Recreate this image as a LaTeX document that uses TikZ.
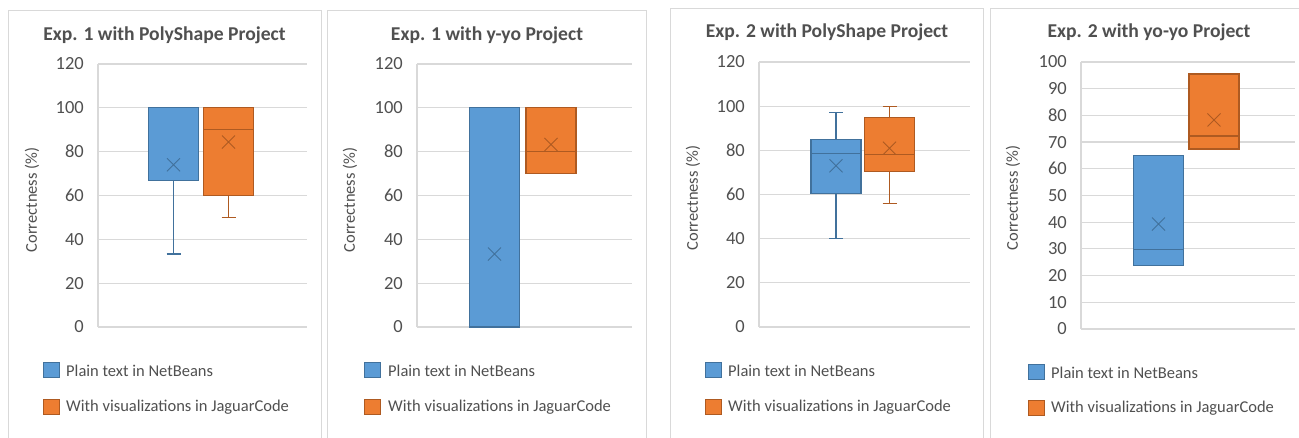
\documentclass[tikz,border=0pt]{standalone}
\usepackage{fontspec}
\setmainfont{Carlito}
\usepackage{xcolor}
\usetikzlibrary{positioning}

\definecolor{nbblue}{HTML}{5B9BD5}
\definecolor{nbblueline}{HTML}{41719C}
\definecolor{jcorange}{HTML}{ED7D31}
\definecolor{jcorangeline}{HTML}{AE5A21}
\definecolor{txtgray}{HTML}{505050}
\definecolor{gridgray}{HTML}{D9D9D9}

\tikzset{
  frame/.style={draw=gridgray, line width=1pt},
  gridline/.style={draw=gridgray, line width=1.2pt},
  ticklbl/.style={anchor=east, text=txtgray, font=\fontsize{18.5}{18.5}\selectfont, inner sep=0pt},
  ttl/.style={text=txtgray, font=\fontsize{19.6}{19.6}\selectfont\bfseries, inner sep=0pt},
  ylbl/.style={text=txtgray, rotate=90, font=\fontsize{16.5}{16.5}\selectfont, inner sep=0pt},
  legtxt/.style={anchor=west, text=txtgray, font=\fontsize{16.5}{16.5}\selectfont, inner sep=0pt},
  legkey/.style={minimum width=16pt, minimum height=15pt, inner sep=0pt, line width=1pt},
  bluekey/.style={legkey, fill=nbblue, draw=nbblueline},
  orangekey/.style={legkey, fill=jcorange, draw=jcorangeline}
}

% #1 axis x, #2 right end, #3 max value, #4 step
\newcommand{\panelaxes}[4]{%
  \foreach \v in {0,#4,...,#3} {
    \draw[gridline] (#1,\v) -- (#2,\v);
    \node[ticklbl] at (#1-14,\v) {\v};
  }
  \draw[gridline] (#1,0) -- (#1,#3);
}

% #1 centre x, #2 low, #3 q1, #4 median, #5 q3, #6 high, #7 mean, #8 fill, #9 line
\newcommand{\bxplot}[9]{%
  \draw[#9, line width=1.2pt] (#1,#2) -- (#1,#3) (#1,#5) -- (#1,#6);
  \draw[#9, line width=1.2pt] (#1,#2) ++(-7pt,0) -- ++(14pt,0)
                              (#1,#6) ++(-7pt,0) -- ++(14pt,0);
  \filldraw[fill=#8, draw=#9, line width=1.2pt] (#1-25,#3) rectangle (#1+25,#5);
  \draw[#9, line width=1.2pt] (#1-25,#4) -- (#1+25,#4);
  \draw[#9, line width=0.9pt] (#1,#7) ++(-6.5pt,-6.5pt) -- ++(13pt,13pt)
                              (#1,#7) ++(-6.5pt,6.5pt) -- ++(13pt,-13pt);
}

\begin{document}
\begin{tikzpicture}[x=1pt, y=-1pt]
  \useasboundingbox[fill=white] (0,0) rectangle (1299,438);
  \clip (0,0) rectangle (1299,438);

  % chart frames
  \draw[frame] (8,11) rectangle (321,450);
  \draw[frame] (327,11) rectangle (646,450);
  \draw[frame] (670,9) rectangle (983,450);
  \draw[frame] (990,9) rectangle (1320,450);

  % titles
  \node[ttl] (t1) at (164.5,35) {Exp. 1 with PolyShape Project};
  \node[ttl] (t2) at (487,35) {Exp. 1 with y-yo Project};
  \node[ttl] (t3) at (827,32) {Exp. 2 with PolyShape Project};
  \node[ttl] (t4) at (1149,32) {Exp. 2 with yo-yo Project};

  % axis titles
  \node[ylbl] (y1) at (32,200) {Correctness (\%)};
  \node[ylbl] (y2) at (350,200) {Correctness (\%)};
  \node[ylbl] (y3) at (693,198) {Correctness (\%)};
  \node[ylbl] (y4) at (1013,198) {Correctness (\%)};

  % Exp. 1, PolyShape
  \begin{scope}[shift={(0,327)}, y={(0pt,2.1917pt)}]
    \panelaxes{98}{307}{120}{20}
    \bxplot{173.5}{33.3}{66.7}{100}{100}{100}{74}{nbblue}{nbblueline}
    \bxplot{228.5}{50}{60}{90}{100}{100}{84.4}{jcorange}{jcorangeline}
  \end{scope}

  % Exp. 1, y-yo
  \begin{scope}[shift={(0,327)}, y={(0pt,2.1917pt)}]
    \panelaxes{417}{632}{120}{20}
    \bxplot{494.5}{0}{0}{0}{100}{100}{33.3}{nbblue}{nbblueline}
    \bxplot{551}{70}{70}{80}{100}{100}{83.3}{jcorange}{jcorangeline}
  \end{scope}

  % Exp. 2, PolyShape
  \begin{scope}[shift={(0,327)}, y={(0pt,2.208pt)}]
    \panelaxes{759}{970}{120}{20}
    \bxplot{836}{40}{60.4}{78.6}{85}{97}{73}{nbblue}{nbblueline}
    \bxplot{889.5}{56}{70.3}{78.3}{95}{100}{81}{jcorange}{jcorangeline}
  \end{scope}

  % Exp. 2, yo-yo
  \begin{scope}[shift={(0,329)}, y={(0pt,2.67pt)}]
    \panelaxes{1081}{1295}{100}{10}
    \bxplot{1158.5}{23.7}{23.7}{29.7}{65}{65}{39.3}{nbblue}{nbblueline}
    \bxplot{1214}{67.4}{67.4}{72.3}{95.5}{95.5}{78.3}{jcorange}{jcorangeline}
  \end{scope}

  % legends
  \node[bluekey] (k1a) at (51,370.5) {};
  \node[legtxt] (l1a) at (66,371) {Plain text in NetBeans};
  \node[orangekey] (k1b) at (51,406.5) {};
  \node[legtxt] (l1b) at (66,407) {With visualizations in JaguarCode};

  \node[bluekey] (k2a) at (372.5,370.5) {};
  \node[legtxt] (l2a) at (388,371) {Plain text in NetBeans};
  \node[orangekey] (k2b) at (372.5,406.5) {};
  \node[legtxt] (l2b) at (388,407) {With visualizations in JaguarCode};

  \node[bluekey] (k3a) at (713,370.5) {};
  \node[legtxt] (l3a) at (728,371) {Plain text in NetBeans};
  \node[orangekey] (k3b) at (713,406.5) {};
  \node[legtxt] (l3b) at (728,407) {With visualizations in JaguarCode};

  \node[bluekey] (k4a) at (1036,372.5) {};
  \node[legtxt] (l4a) at (1051,373) {Plain text in NetBeans};
  \node[orangekey] (k4b) at (1036,407.5) {};
  \node[legtxt] (l4b) at (1051,408) {With visualizations in JaguarCode};
\end{tikzpicture}
\end{document}
